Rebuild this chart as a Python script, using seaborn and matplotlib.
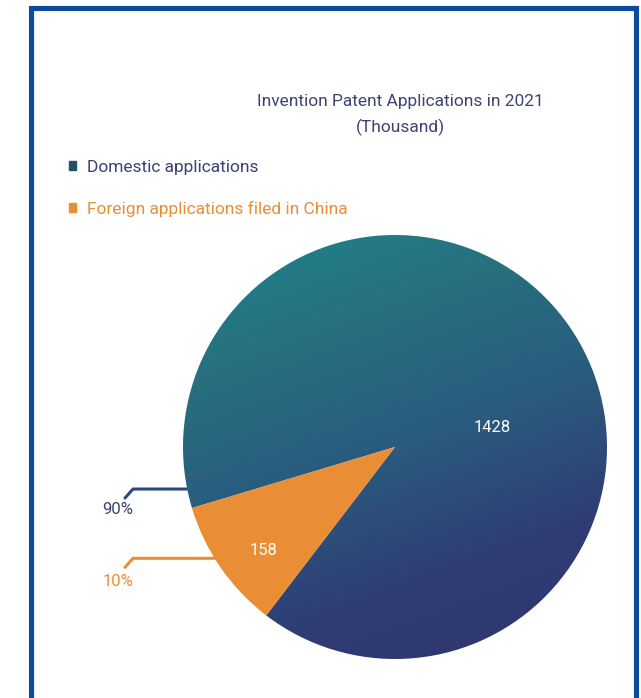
import numpy as np
import matplotlib
matplotlib.use("Agg")
import matplotlib.pyplot as plt
import seaborn as sns
from matplotlib.colors import LinearSegmentedColormap
from matplotlib.patches import Rectangle, Patch

# data
labels = ["Domestic applications", "Foreign applications filed in China"]
values = [1428, 158]
percents = ["90%", "10%"]
title = "Invention Patent Applications in 2021\n(Thousand)"

orange = "#e98e35"
navy = "#3a4274"

sns.set_theme(style="white")
plt.rcParams['font.family'] = ['Roboto', 'DejaVu Sans']

W, H = 641, 698
fig = plt.figure(figsize=(W / 100, H / 100), dpi=100)
fig.patch.set_facecolor("white")

# frame around the card
fig.patches.append(Rectangle((30.5 / W, -0.1), 606 / W, (H - 7.5) / H + 0.1,
                             transform=fig.transFigure, fill=False,
                             edgecolor="#0b4a9d", linewidth=3.7))

cx, cy, r = 395, 447, 212
ax = fig.add_axes([(cx - r) / W, (H - cy - r) / H, 2 * r / W, 2 * r / H])

wedges, _ = ax.pie(values, startangle=232.6, radius=1,
                   colors=["none", orange], wedgeprops=dict(linewidth=0))
ax.set_xlim(-1, 1)
ax.set_ylim(-1, 1)
ax.axis("off")

# gradient fill of the big slice
cmap = LinearSegmentedColormap.from_list(
    "grad", ["#1f848c", "#27707f", "#2a5b7e", "#2f3d74", "#31346e"])
gx, gy = np.meshgrid(np.linspace(-1, 1, 400), np.linspace(1, -1, 400))
t = (0.35 * gx - 0.94 * gy)
t = (t - t.min()) / (t.max() - t.min())
im = ax.imshow(t, extent=(-1, 1, -1, 1), cmap=cmap, origin="upper", zorder=0)
im.set_clip_path(wedges[0])

# values inside slices
ax.text(0.46, 0.09, str(values[0]), color="white", fontsize=12,
        ha="center", va="center")
ax.text(-0.62, -0.49, str(values[1]), color="white", fontsize=12,
        ha="center", va="center")

# leader lines with percentages
def leader(angle, pct, color, lc, dy):
    a = np.deg2rad(angle)
    ex, ey = np.cos(a), np.sin(a)
    kx = (133 - cx) / r
    ax.plot([ex, kx, kx - 8 / r], [ey, ey, ey - 9 / r], color=lc,
            linewidth=2.2, clip_on=False, solid_capstyle="round", zorder=-1)
    ax.text((118 - cx) / r, ey - dy / r, pct, color=color, fontsize=12,
            ha="center", va="center", clip_on=False)

w0, w1 = wedges
leader(w0.theta2 - 5.3, percents[0], navy, "#2a4a7c", 20)
leader((w1.theta1 + w1.theta2) / 2 - 3, percents[1], orange, orange, 23)

fig.text(400 / W, 1 - 115 / H, title, ha="center", va="center",
         fontsize=12.5, color="#3d4470", linespacing=1.75)

handles = [Patch(color="#244f6c"), Patch(color=orange)]
leg = fig.legend(handles, labels, loc="upper left",
                 bbox_to_anchor=(53 / W, 1 - 144 / H), frameon=False,
                 fontsize=12.5, handlelength=0.42, handleheight=0.42,
                 handletextpad=0.65, labelspacing=1.5,
                 labelcolor=[navy, orange])

fig.savefig("out.png", dpi=100)
